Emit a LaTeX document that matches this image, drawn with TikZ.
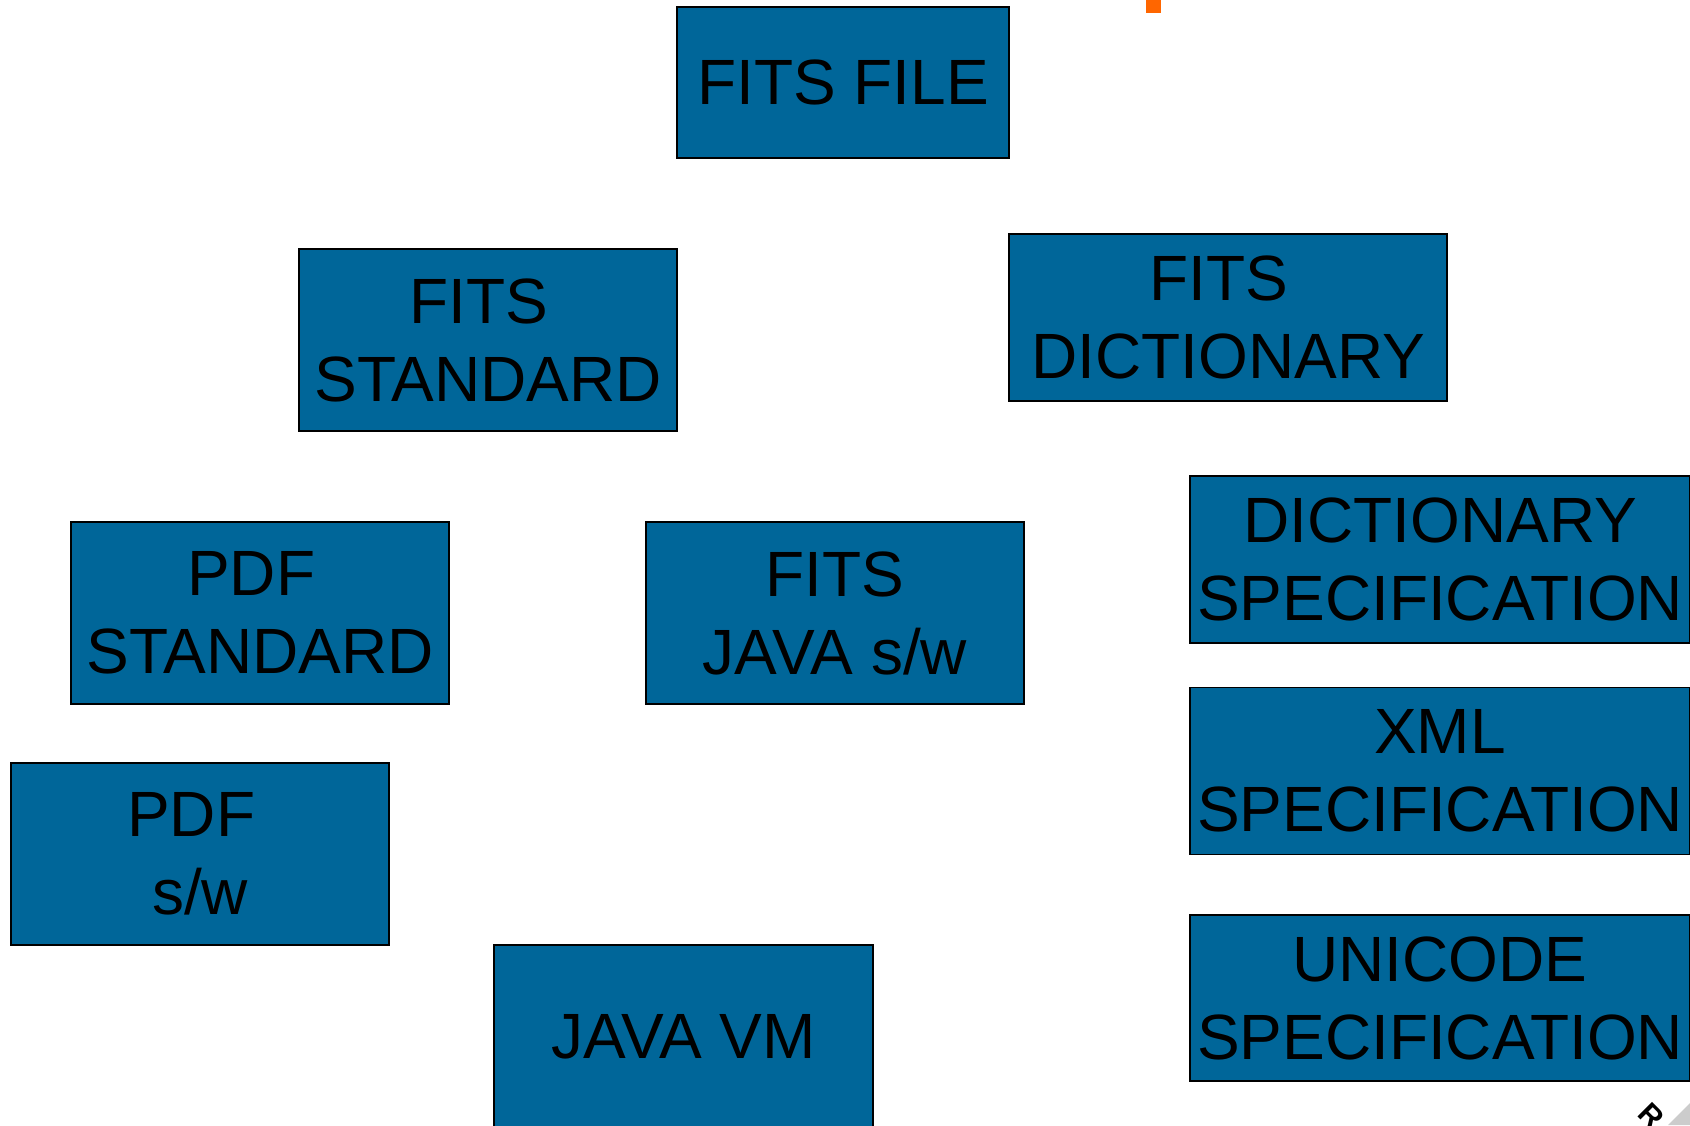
\documentclass[tikz,border=0pt]{standalone}
\usepackage{fontspec}
\setmainfont{Liberation Sans}
\definecolor{boxblue}{RGB}{0,102,153}
\definecolor{markorange}{RGB}{255,102,0}
\newcommand{\tsp}{\kern0.278em}
\tikzset{
  bluebox/.style={draw=black, line width=1.6pt, fill=boxblue, inner sep=0pt,
    align=center, text=black,
    font=\fontsize{64}{78}\selectfont},
}
\begin{document}
\begin{tikzpicture}[x=1pt,y=-1pt]
\useasboundingbox (0,0) rectangle (1690,1125);
\clip (0,0) rectangle (1690,1125);
\fill[markorange] (1146,0) rectangle (1161,13);
\node[bluebox, minimum width=332pt, minimum height=151pt] (ff) at (843,82.5) {FITS FILE};
\node[bluebox, minimum width=378pt, minimum height=182pt] (fs) at (488,340) {FITS\tsp\\STANDARD};
\node[bluebox, minimum width=438pt, minimum height=167pt] (fd) at (1228,317.5) {FITS\tsp\\DICTIONARY};
\node[bluebox, minimum width=500pt, minimum height=167pt] (ds) at (1440,559.5) {DICTIONARY\\SPECIFICATION};
\node[bluebox, minimum width=378pt, minimum height=182pt] (ps) at (260,613) {PDF\tsp\\STANDARD};
\node[bluebox, minimum width=378pt, minimum height=182pt] (fj) at (835,613) {FITS\\JAVA s/w};
\node[bluebox, minimum width=500pt, minimum height=167pt] (xs) at (1440,771) {XML\\SPECIFICATION};
\node[bluebox, minimum width=378pt, minimum height=182pt] (pw) at (200,854) {PDF\tsp\\s/w};
\node[bluebox, minimum width=379pt, minimum height=183pt] (jv) at (683.5,1036.5) {JAVA VM};
\node[bluebox, minimum width=500pt, minimum height=166pt] (us) at (1440,998) {UNICODE\\SPECIFICATION};
\fill[gray!40] (1668,1125) -- (1690,1103) -- (1690,1125) -- cycle;
\node[font=\bfseries\fontsize{30}{30}\selectfont, rotate=-45, inner sep=0pt] (rr) at (1651,1116) {R};
\end{tikzpicture}
\end{document}
